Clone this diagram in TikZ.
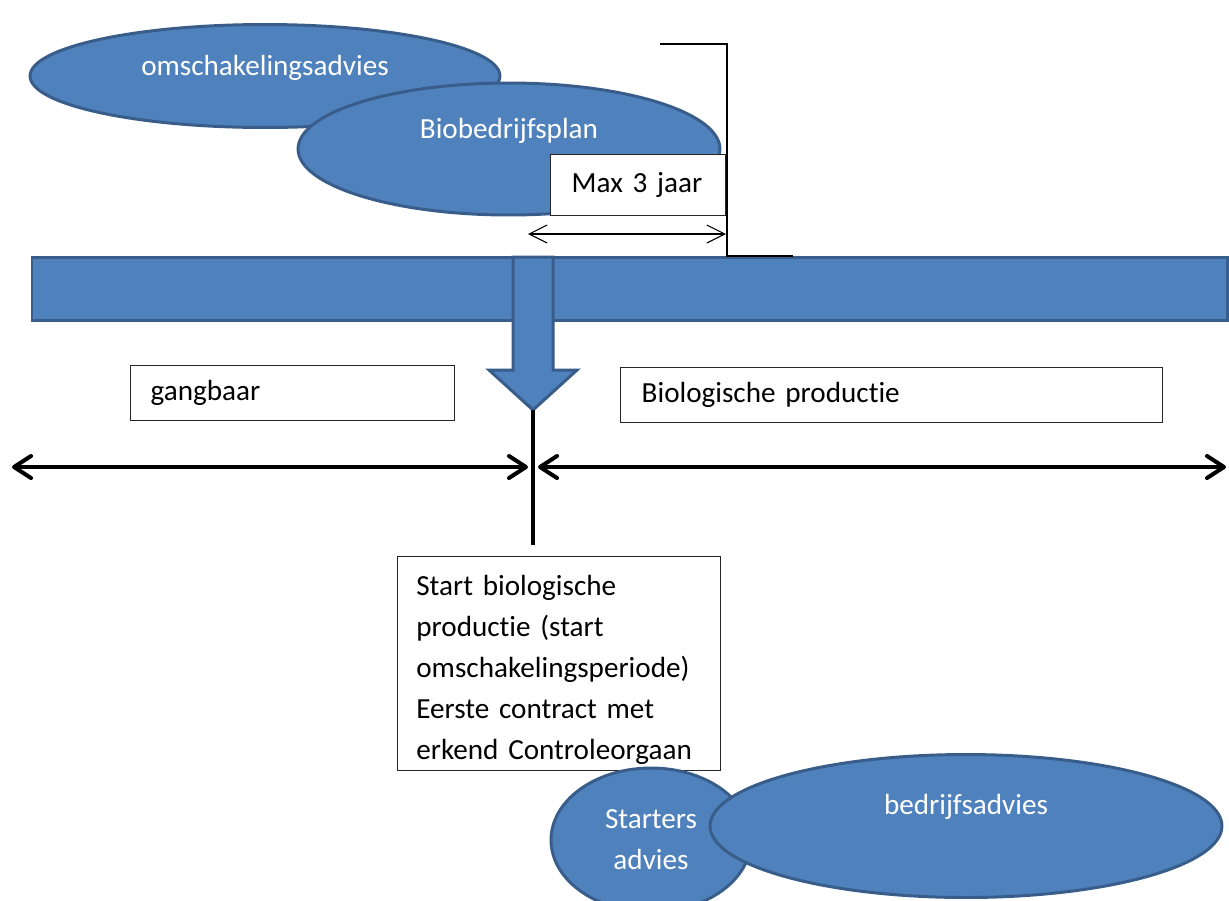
\documentclass[tikz,border=0pt]{standalone}
\usepackage{fontspec}
\setmainfont{Carlito}[Ligatures=NoCommon, WordSpace=0.8]
\usepackage{tikz}
\usetikzlibrary{arrows.meta,shapes.geometric,positioning}
\definecolor{blobfill}{HTML}{4F81BD}
\definecolor{blobline}{HTML}{385D8A}
\tikzset{
	blob/.style={ellipse, fill=blobfill, draw=blobline, line width=1.7pt, inner sep=0pt},
	blobtext/.style={text=white, inner sep=0pt},
	box/.style={draw=black!85, line width=0.8pt, fill=white, inner ysep=0pt},
	timeline/.style={line width=2.3pt, {Straight Barb[round,length=0.34cm,width=0.44cm]}-{Straight Barb[round,length=0.34cm,width=0.44cm]}},
	span/.style={line width=0.6pt, {Straight Barb[length=0.36cm,width=0.36cm]}-{Straight Barb[length=0.36cm,width=0.36cm]}},
}

\begin{document}
\begin{tikzpicture}[x=0.02cm, y=-0.02cm, font=\fontsize{16.6}{23.3}\selectfont]
		%%%%% START %%%%%
		\useasboundingbox (0, 0) rectangle (1229, 900);
		
		\node[blob, minimum width=9.4cm, minimum height=2.06cm] (oms) at (265, 76) {};
		\node[blobtext] at ([yshift=0.16cm]oms.center) {omschakelingsadvies};
		
		\node[blob, minimum width=8.44cm, minimum height=2.64cm] (plan) at (509, 149) {};
		\node[blobtext] at ([yshift=0.36cm]plan.center) {Biobedrijfsplan};
		
		\node[box, anchor=north west, minimum width=3.5cm, minimum height=1.22cm, text width=2.66cm, inner xsep=0.42cm, align=left] (max) at (550, 154) {Max 3 jaar};
		\coordinate (spanl) at (528, 234);
		\coordinate (spanr) at (726, 234);
		\draw[span] (spanl) -- (spanr);
		
		\draw[fill=blobfill, draw=blobline, line width=1.7pt] (32, 257) rectangle (1227, 320);
		
		\coordinate (top) at (660, 44);
		\coordinate (corner) at (727, 256);
		\draw[line width=0.9pt] (top) -- (corner |- top) -- (corner) -- ++(66, 0);
		
		\draw[fill=blobfill, draw=blobline, line width=1.7pt, line join=miter] (513, 257) -- (553, 257) -- (553, 370) -- (577, 370) -- (533, 410) -- (489, 370) -- (513, 370) -- cycle;
		\coordinate (tip) at (533, 410);
		\coordinate (foot) at (533, 545);
		\draw[line width=2.3pt] (tip) -- (foot);
		
		\coordinate (lend) at (12, 467);
		\coordinate (mid) at (533, 467);
		\coordinate (rend) at (1226, 467);
		\draw[timeline] (lend) -- ([xshift=-0.1cm]mid);
		\draw[timeline] ([xshift=0.1cm]mid) -- (rend);
		
		\node[box, anchor=north west, minimum width=6.48cm, minimum height=1.1cm, text width=5.68cm, inner xsep=0.4cm, align=left] (gang) at (130, 365) {gangbaar};
		\node[box, anchor=north west, minimum width=10.84cm, minimum height=1.1cm, text width=10cm, inner xsep=0.42cm, align=left] (bio) at (620, 367) {Biologische productie};
		
		\node[box, anchor=north west, minimum width=6.46cm, minimum height=4.28cm] (start) at (397, 556) {};
		\begin{scope}
			\clip (start.south west) rectangle (start.north east);
			\node[anchor=north west, inner sep=0pt, text width=6cm, align=left] (starttext) at (416, 575) {Start biologische\\productie (start\\omschakelingsperiode)\\Eerste contract met\\erkend Controleorgaan};
		\end{scope}
		
		\node[blob, minimum width=4cm, minimum height=2.88cm] (starters) at (651, 840) {};
		\node[blobtext, align=center] at (starters.center) {Starters\\advies};
		
		\node[blob, minimum width=10.24cm, minimum height=2.86cm] (advies) at (966, 826) {};
		\node[blobtext] at ([yshift=0.38cm]advies.center) {bedrijfsadvies};
		
		%%%%% END %%%%%
\end{tikzpicture}
\end{document}
